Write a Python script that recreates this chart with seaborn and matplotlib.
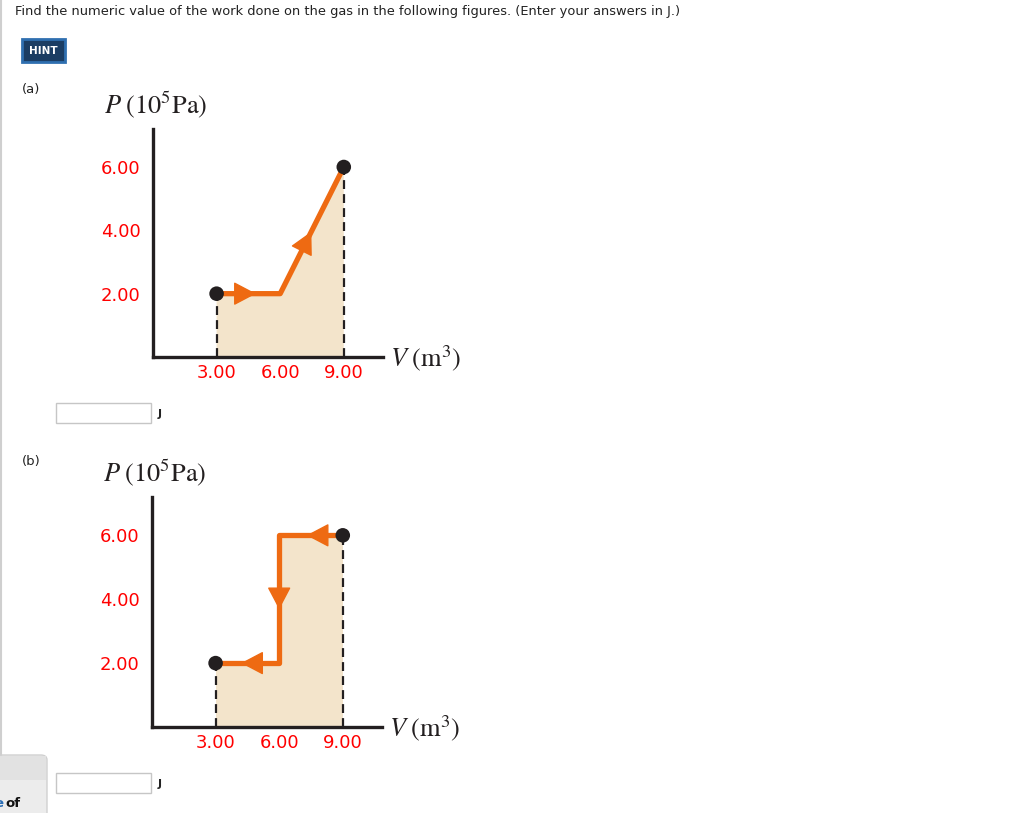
import numpy as np
import pandas as pd
import matplotlib.pyplot as plt
import seaborn as sns
from matplotlib.patches import Rectangle, FancyBboxPatch

# process paths: volume (m^3) and pressure (10^5 Pa)
vol_a = [3.00, 6.00, 9.00]
pres_a = [2.00, 2.00, 6.00]
vol_b = [9.00, 6.00, 6.00, 3.00]
pres_b = [6.00, 6.00, 2.00, 2.00]

# where each arrow tip sits along its segment (fraction from segment start)
arrow_frac_a = [0.62, 0.49]
arrow_frac_b = [0.57, 0.58, 0.60]

ticks_v = [3.00, 6.00, 9.00]
ticks_p = [2.00, 4.00, 6.00]

question = "Find the numeric value of the work done on the gas in the following figures. (Enter your answers in J.)"

ORANGE = "#ee6a12"
FILL = "#f3e4cb"
DARK = "#231f20"

W, H = 1032, 813

sns.set_style("white")
plt.rcParams["font.family"] = ["DejaVu Sans"]
plt.rcParams["mathtext.fontset"] = "stix"

fig = plt.figure(figsize=(W / 100, H / 100), dpi=100)


def fx(px):
    return px / W


def fy(py):
    return 1 - py / H


def draw_panel(ax, vol, pres, fracs):
    df = pd.DataFrame({"V": vol, "P": pres})
    # shaded area under the path
    poly_x = list(vol) + [vol[-1], vol[0]]
    poly_y = list(pres) + [0, 0]
    ax.fill(poly_x, poly_y, color=FILL, lw=0, zorder=1)
    # dashed drop lines at the end states
    ends = df.iloc[[0, -1]]
    ax.vlines(ends["V"], 0, ends["P"], colors=DARK, linestyles=(0, (4, 2.3)),
              lw=1.6, zorder=2)
    sns.lineplot(data=df, x="V", y="P", sort=False, estimator=None, ax=ax,
                 color=ORANGE, lw=3.8, zorder=3)
    for i, f in enumerate(fracs):
        x0, y0 = vol[i], pres[i]
        x1, y1 = vol[i + 1], pres[i + 1]
        tip = (x0 + f * (x1 - x0), y0 + f * (y1 - y0))
        tail = (x0 + (f - 0.2) * (x1 - x0), y0 + (f - 0.2) * (y1 - y0))
        ax.annotate("", xy=tip, xytext=tail,
                    arrowprops=dict(arrowstyle="-|>,head_length=0.95,head_width=0.5",
                                    color=ORANGE, lw=1, mutation_scale=15,
                                    shrinkA=0, shrinkB=0), zorder=4)
    sns.scatterplot(data=ends, x="V", y="P", ax=ax, color=DARK, s=110,
                    edgecolor="none", zorder=5, clip_on=False)
    ax.set_xlim(0, 10.85)
    ax.set_ylim(0, 7.2)
    ax.set_xticks(ticks_v)
    ax.set_xticklabels([f"{v:.2f}" for v in ticks_v])
    ax.set_yticks(ticks_p)
    ax.set_yticklabels([f"{p:.2f}" for p in ticks_p])
    ax.tick_params(axis="both", direction="in", length=10, width=2,
                   color=DARK, labelcolor="#ff0000", labelsize=13)
    ax.tick_params(axis="y", pad=9)
    ax.tick_params(axis="x", pad=5)
    ax.set_xlabel("")
    ax.set_ylabel("")
    sns.despine(ax=ax)
    for s in ["left", "bottom"]:
        ax.spines[s].set_linewidth(2.4)
        ax.spines[s].set_color(DARK)
    ax.patch.set_alpha(0)
    ax.text(-0.215, 1.105, r"$P\;(10^5\mathrm{Pa})$", transform=ax.transAxes,
            ha="left", va="center", fontsize=19, color=DARK)
    ax.text(1.03, -0.005, r"$V\;(\mathrm{m}^3)$", transform=ax.transAxes,
            ha="left", va="center", fontsize=19, color=DARK)


ax_a = fig.add_axes([fx(153), fy(357), fx(230), 228 / H])
draw_panel(ax_a, vol_a, pres_a, arrow_frac_a)
ax_b = fig.add_axes([fx(152), fy(727), fx(230), 230 / H])
draw_panel(ax_b, vol_b, pres_b, arrow_frac_b)

# page furniture
fig.add_artist(plt.Line2D([fx(1), fx(1)], [fy(0), fy(755)], color="#cfcfcf", lw=1.5))
fig.text(fx(15), fy(11), question, fontsize=9.4, color="#222222", ha="left", va="center")

fig.add_artist(Rectangle((fx(22), fy(62)), fx(43), 23 / H, transform=fig.transFigure,
                         facecolor="#1b3d63", edgecolor="#2f6fb0", lw=2))
fig.text(fx(43.5), fy(51), "HINT", fontsize=7.5, fontweight="bold", color="white",
         ha="center", va="center")

fig.text(fx(22), fy(89), "(a)", fontsize=9.5, color="#222222", ha="left", va="center")
fig.text(fx(22), fy(461), "(b)", fontsize=9.5, color="#222222", ha="left", va="center")

for top in [403, 773]:
    fig.add_artist(Rectangle((fx(56), fy(top + 20)), fx(95), 20 / H,
                             transform=fig.transFigure, facecolor="white",
                             edgecolor="#c6c6c6", lw=1))
    fig.text(fx(158), fy(top + 11), "J", fontsize=8, fontweight="bold",
             color="#222222", ha="left", va="center")

# bottom-left dock panel
fig.add_artist(FancyBboxPatch((fx(-10), fy(830)), fx(57), 75 / H,
                              boxstyle="round,pad=0,rounding_size=0.006",
                              transform=fig.transFigure, facecolor="#ececec",
                              edgecolor="#d0d0d0", lw=1))
fig.add_artist(Rectangle((fx(0), fy(780)), fx(46), 24 / H, transform=fig.transFigure,
                         facecolor="#e2e2e2", edgecolor="none"))
fig.text(fx(-6), fy(803), "e", fontsize=9.5, fontweight="bold", color="#2a6db5",
         ha="left", va="center")
fig.text(fx(5), fy(803), "of", fontsize=9.5, fontweight="bold", color="#111111",
         ha="left", va="center")

fig.savefig("out.png", dpi=100)
